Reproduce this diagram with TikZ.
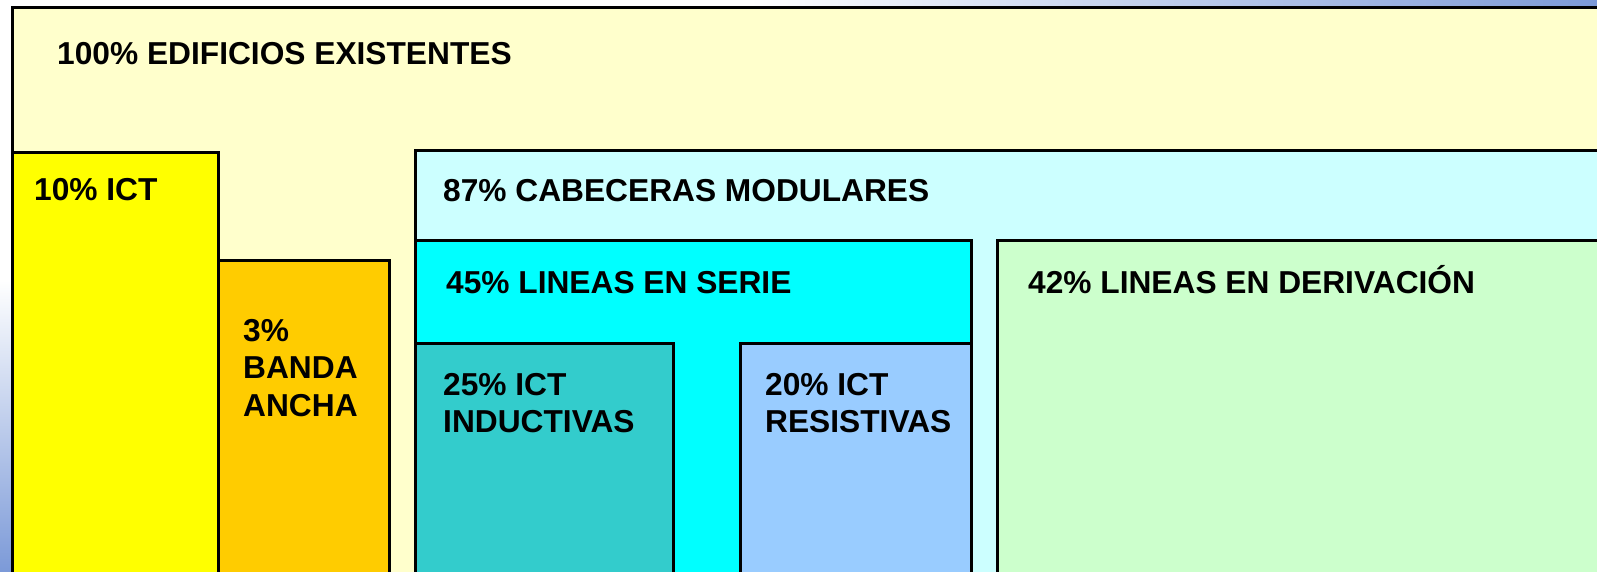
\documentclass[tikz,border=0pt]{standalone}
\usepackage{fontspec}
\setmainfont{Liberation Sans}
\definecolor{bgblue}{HTML}{7C9AD8}
\definecolor{cOuter}{HTML}{FFFFCC}
\definecolor{cICT}{HTML}{FFFF00}
\definecolor{cBanda}{HTML}{FFCC00}
\definecolor{cCab}{HTML}{CCFFFF}
\definecolor{cSerie}{HTML}{00FFFF}
\definecolor{cInd}{HTML}{33CCCC}
\definecolor{cRes}{HTML}{99CCFF}
\definecolor{cDer}{HTML}{CCFFCC}
\tikzset{
  box/.style={draw=black, line width=3pt},
  lbl/.style={anchor=base west, inner sep=0pt, font=\fontsize{31.7}{37}\selectfont\bfseries, text=black}
}
\begin{document}
\begin{tikzpicture}[x=1pt,y=-1pt]
\useasboundingbox (0,0) rectangle (1597,571);
\fill[white] (0,0) rectangle (1597,571);
\shade[left color=white, right color=bgblue] (750,0) rectangle (1597,12);
\fill[white] (0,0) rectangle (750,12);
\shade[top color=white, bottom color=bgblue] (0,280) rectangle (14,571);
\clip (0,0) rectangle (1597,571);
% boxes
\draw[box, fill=cOuter] (12,7) rectangle (1620,620);
\draw[box, fill=cICT] (12,152) rectangle (218,620);
\draw[box, fill=cBanda] (218,260) rectangle (389,620);
\draw[box, fill=cCab] (415,150) rectangle (1620,620);
\draw[box, fill=cSerie] (415,240) rectangle (971,620);
\draw[box, fill=cInd] (415,343) rectangle (673,620);
\draw[box, fill=cRes] (740,343) rectangle (971,620);
\draw[box, fill=cDer] (997,240) rectangle (1620,620);
% labels
\node[lbl] (t100) at (57,64) {100\% EDIFICIOS EXISTENTES};
\node[lbl] (tict) at (34,200) {10\% ICT};
\node[lbl] (tb1) at (243,341) {3\%};
\node[lbl] (tb2) at (243,378) {BANDA};
\node[lbl] (tb3) at (243,416) {ANCHA};
\node[lbl] (tcab) at (443,201) {87\% CABECERAS MODULARES};
\node[lbl] (tser) at (446,293) {45\% LINEAS EN SERIE};
\node[lbl] (tin1) at (443,395) {25\% ICT};
\node[lbl] (tin2) at (443,432) {INDUCTIVAS};
\node[lbl] (trs1) at (765,395) {20\% ICT};
\node[lbl] (trs2) at (765,432) {RESISTIVAS};
\node[lbl] (tder) at (1028,293) {42\% LINEAS EN DERIVACIÓN};
\end{tikzpicture}
\end{document}
